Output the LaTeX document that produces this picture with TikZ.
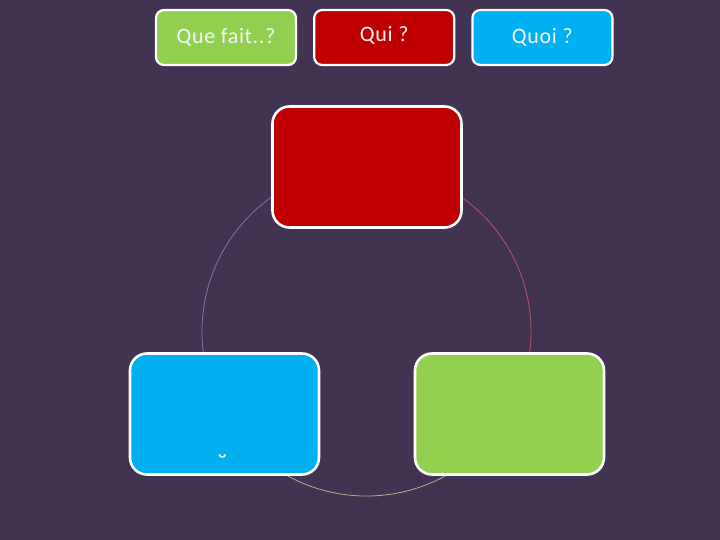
\documentclass[tikz,border=0pt]{standalone}
\usepackage{fontspec}
\setmainfont{Carlito}
\usetikzlibrary{positioning}
\definecolor{bgpurple}{RGB}{66,51,83}
\definecolor{boxred}{RGB}{192,0,0}
\definecolor{boxgreen}{RGB}{146,208,80}
\definecolor{boxblue}{RGB}{0,176,240}
\definecolor{arcpurple}{RGB}{140,110,170}
\definecolor{arcred}{RGB}{190,80,100}
\definecolor{arcgreen}{RGB}{170,180,130}

\begin{document}
\begin{tikzpicture}[
            x=1pt, y=-1pt,
            smallbox/.style={draw=white, line width=2.2pt, rounded corners=8pt, minimum width=140pt, minimum height=55pt, text=white!92!gray, font=\fontsize{22}{24}\selectfont\addfontfeatures{LetterSpace=3}},
            bigbox/.style={draw=white, line width=2.6pt, rounded corners=17pt, minimum width=189pt, minimum height=121pt},
            ring/.style={line width=0.8pt},
            node distance=16pt
        ]

        % background
        \fill[bgpurple] (0,0) rectangle (720,540);
        \useasboundingbox (0,0) rectangle (720,540);

        % cycle behind the boxes
        \coordinate (centre) at (366.5,331.5);
        \draw[ring, arcpurple] (centre) ++(150:164.5) arc[start angle=150, end angle=270, radius=164.5];
        \draw[ring, arcred] (centre) ++(270:164.5) arc[start angle=270, end angle=390, radius=164.5];
        \draw[ring, arcgreen] (centre) ++(30:164.5) arc[start angle=30, end angle=150, radius=164.5];

        % top row of questions
        \node[smallbox, fill=boxgreen] (quefait) at (226,37.5) {Que fait..?};
        \node[smallbox, fill=boxred, right=of quefait, text depth=7pt] (qui) {Qui ?};
        \node[smallbox, fill=boxblue, right=of qui] (quoi) {Quoi ?};

        % cycle boxes
        \node[bigbox, fill=boxred] (redbox) at (367,167) {};
        \node[bigbox, fill=boxblue] (bluebox) at (224.5,414) {};
        \node[bigbox, fill=boxgreen] (greenbox) at (509.5,414) {};

        % leftover mark in the blue box
        \node[text=white, font=\fontsize{28}{30}\selectfont, inner sep=0pt] (mark) at ([xshift=-2pt, yshift=-50pt]bluebox.center) {˘};

    \end{tikzpicture}
\end{document}
